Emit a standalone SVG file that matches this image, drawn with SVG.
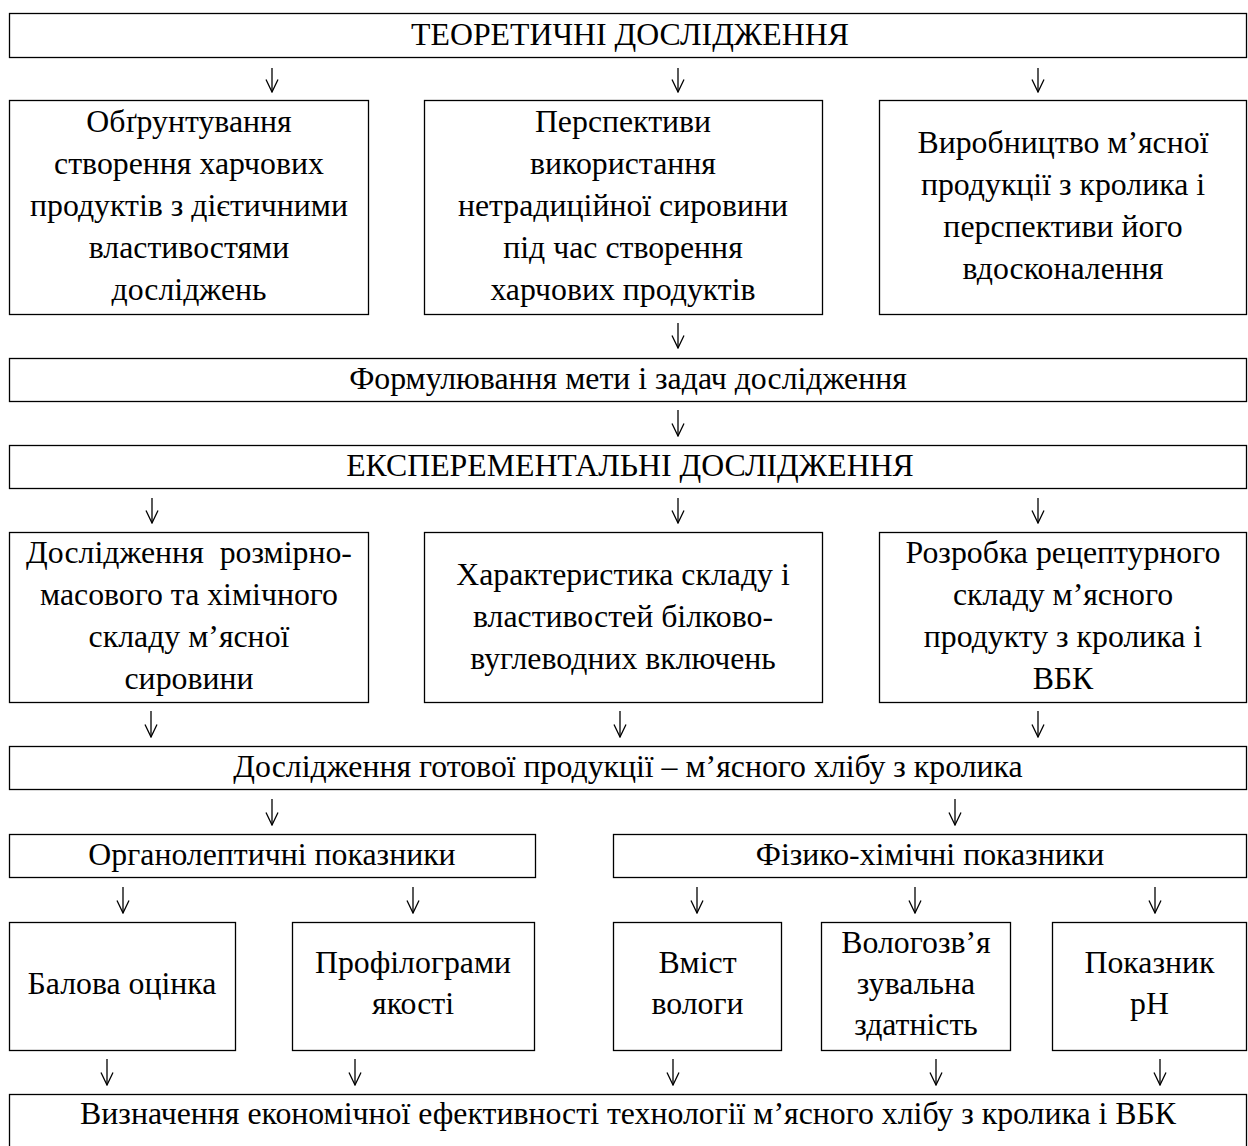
<svg xmlns="http://www.w3.org/2000/svg" width="1248" height="1146" viewBox="0 0 1248 1146">
<style>
rect.b{fill:#fff;stroke:#000;stroke-width:1.3}
text{font-family:"Liberation Serif","Times New Roman",serif;font-size:31.8px;fill:#000;text-anchor:middle}
.c path{fill:none;stroke:#000;stroke-width:1.3}
</style>
<defs>
<marker id="ah" viewBox="0 0 14 14" refX="13" refY="7" markerWidth="14" markerHeight="14" markerUnits="userSpaceOnUse" orient="auto">
<path d="M0.5,1 L13,7 L0.5,13" fill="none" stroke="#000" stroke-width="1.3"/>
</marker>
</defs>
<rect width="1248" height="1146" fill="#fff"/>
<g id="n-teor"><rect class="b" x="9.5" y="13.5" width="1237" height="44"/>
<text x="630" y="45">ТЕОРЕТИЧНІ ДОСЛІДЖЕННЯ</text></g>
<g id="n-a1"><rect class="b" x="9.5" y="100.5" width="359" height="214"/>
<text><tspan x="189" y="132">Обґрунтування</tspan><tspan x="189" y="174">створення харчових</tspan><tspan x="189" y="216">продуктів з дієтичними</tspan><tspan x="189" y="258">властивостями</tspan><tspan x="189" y="300">досліджень</tspan></text></g>
<g id="n-b1"><rect class="b" x="424.5" y="100.5" width="398" height="214"/>
<text><tspan x="623" y="132">Перспективи</tspan><tspan x="623" y="174">використання</tspan><tspan x="623" y="216">нетрадиційної сировини</tspan><tspan x="623" y="258">під час створення</tspan><tspan x="623" y="300">харчових продуктів</tspan></text></g>
<g id="n-c1"><rect class="b" x="879.5" y="100.5" width="367" height="214"/>
<text><tspan x="1063" y="153">Виробництво м’ясної</tspan><tspan x="1063" y="195">продукції з кролика і</tspan><tspan x="1063" y="237">перспективи його</tspan><tspan x="1063" y="279">вдосконалення</tspan></text></g>
<g id="n-form"><rect class="b" x="9.5" y="358.5" width="1237" height="43"/>
<text x="628" y="389">Формулювання мети і задач дослідження</text></g>
<g id="n-exp"><rect class="b" x="9.5" y="445.5" width="1237" height="43"/>
<text x="630" y="476">ЕКСПЕРЕМЕНТАЛЬНІ ДОСЛІДЖЕННЯ</text></g>
<g id="n-a2"><rect class="b" x="9.5" y="532.5" width="359" height="170"/>
<text style="white-space:pre"><tspan x="189" y="563">Дослідження  розмірно-</tspan><tspan x="189" y="605">масового та хімічного</tspan><tspan x="189" y="647">складу м’ясної</tspan><tspan x="189" y="689">сировини</tspan></text></g>
<g id="n-b2"><rect class="b" x="424.5" y="532.5" width="398" height="170"/>
<text><tspan x="623" y="585">Характеристика складу і</tspan><tspan x="623" y="627">властивостей білково-</tspan><tspan x="623" y="669">вуглеводних включень</tspan></text></g>
<g id="n-c2"><rect class="b" x="879.5" y="532.5" width="367" height="170"/>
<text><tspan x="1063" y="563">Розробка рецептурного</tspan><tspan x="1063" y="605">складу м’ясного</tspan><tspan x="1063" y="647">продукту з кролика і</tspan><tspan x="1063" y="689">ВБК</tspan></text></g>
<g id="n-got"><rect class="b" x="9.5" y="746.5" width="1237" height="43"/>
<text x="628" y="777">Дослідження готової продукції – м’ясного хлібу з кролика</text></g>
<g id="n-org"><rect class="b" x="9.5" y="834.5" width="526" height="43"/>
<text x="272" y="865">Органолептичні показники</text></g>
<g id="n-fiz"><rect class="b" x="613.5" y="834.5" width="633" height="43"/>
<text x="930" y="865">Фізико-хімічні показники</text></g>
<g id="n-bal"><rect class="b" x="9.5" y="922.5" width="226" height="128"/>
<text x="122" y="994">Балова оцінка</text></g>
<g id="n-prof"><rect class="b" x="292.5" y="922.5" width="242" height="128"/>
<text><tspan x="413" y="973">Профілограми</tspan><tspan x="413" y="1014">якості</tspan></text></g>
<g id="n-vm"><rect class="b" x="613.5" y="922.5" width="168" height="128"/>
<text><tspan x="697.5" y="973">Вміст</tspan><tspan x="697.5" y="1014">вологи</tspan></text></g>
<g id="n-vol"><rect class="b" x="821.5" y="922.5" width="189" height="128"/>
<text><tspan x="916" y="953">Вологозв’я</tspan><tspan x="916" y="994">зувальна</tspan><tspan x="916" y="1035">здатність</tspan></text></g>
<g id="n-ph"><rect class="b" x="1052.5" y="922.5" width="194" height="128"/>
<text><tspan x="1149.5" y="973">Показник</tspan><tspan x="1149.5" y="1014">pH</tspan></text></g>
<g id="n-ek"><rect class="b" x="9.5" y="1094.5" width="1237" height="70"/>
<text x="628" y="1124">Визначення економічної ефективності технології м’ясного хлібу з кролика і ВБК</text></g>
<g class="c" id="connectors">
<path d="M272,68 V92" marker-end="url(#ah)"/>
<path d="M678,68 V92" marker-end="url(#ah)"/>
<path d="M1038,68 V92" marker-end="url(#ah)"/>
<path d="M678,323 V348" marker-end="url(#ah)"/>
<path d="M678,410 V436" marker-end="url(#ah)"/>
<path d="M152,498 V523" marker-end="url(#ah)"/>
<path d="M678,498 V523" marker-end="url(#ah)"/>
<path d="M1038,498 V523" marker-end="url(#ah)"/>
<path d="M151,711 V737" marker-end="url(#ah)"/>
<path d="M620,711 V737" marker-end="url(#ah)"/>
<path d="M1038,711 V737" marker-end="url(#ah)"/>
<path d="M272,799 V825" marker-end="url(#ah)"/>
<path d="M955,799 V825" marker-end="url(#ah)"/>
<path d="M123,887 V913" marker-end="url(#ah)"/>
<path d="M413,887 V913" marker-end="url(#ah)"/>
<path d="M697,887 V913" marker-end="url(#ah)"/>
<path d="M915,887 V913" marker-end="url(#ah)"/>
<path d="M1155,887 V913" marker-end="url(#ah)"/>
<path d="M107,1059 V1085" marker-end="url(#ah)"/>
<path d="M355,1059 V1085" marker-end="url(#ah)"/>
<path d="M673,1059 V1085" marker-end="url(#ah)"/>
<path d="M936,1059 V1085" marker-end="url(#ah)"/>
<path d="M1160,1059 V1085" marker-end="url(#ah)"/>
</g>
</svg>
